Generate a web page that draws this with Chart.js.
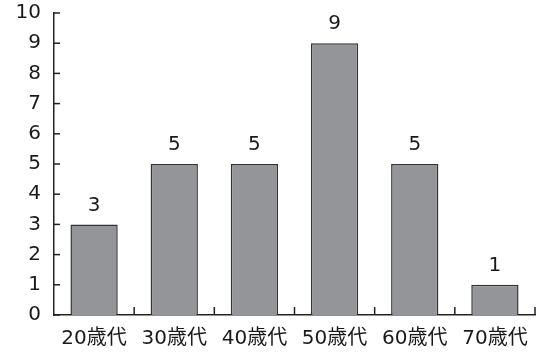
<!DOCTYPE html>
<html>
<head>
<meta charset="utf-8">
<script src="https://cdn.jsdelivr.net/npm/chart.js@4"></script>
<style>
  html, body { margin: 0; padding: 0; background: #fff; }
  #wrap { width: 544px; height: 352px; }
</style>
</head>
<body>
<div id="wrap"><canvas id="grafico"></canvas></div>
<script>
const categorias = ['20歳代', '30歳代', '40歳代', '50歳代', '60歳代', '70歳代'];
const valores = [3, 5, 5, 9, 5, 1];
const yMin = 0;
const yMax = 10;

const fonte = '"DejaVu Sans", "Noto Sans CJK JP", sans-serif';

// marcas dos eixos desenhadas para dentro + rótulos acima das barras
const extras = {
    id: 'extras',
    afterDatasetsDraw(chart) {
        const ctx = chart.ctx;
        const x = chart.scales.x;
        const y = chart.scales.y;
        const area = chart.chartArea;
        ctx.save();
        ctx.strokeStyle = '#222';
        ctx.lineWidth = 1.5;
        // marcas do eixo y
        y.ticks.forEach((t, i) => {
            const py = y.getPixelForTick(i);
            ctx.beginPath();
            ctx.moveTo(area.left, py);
            ctx.lineTo(area.left + 6, py);
            ctx.stroke();
        });
        // marcas do eixo x (entre categorias)
        for (let i = 1; i <= categorias.length; i++) {
            const px = i < categorias.length
                ? (x.getPixelForValue(i - 1) + x.getPixelForValue(i)) / 2
                : area.right;
            ctx.beginPath();
            ctx.moveTo(px, area.bottom);
            ctx.lineTo(px, area.bottom - 8);
            ctx.stroke();
        }
        // valores
        ctx.fillStyle = '#1a1a1a';
        ctx.font = '20px ' + fonte;
        ctx.textAlign = 'center';
        ctx.textBaseline = 'middle';
        const meta = chart.getDatasetMeta(0);
        meta.data.forEach((bar, i) => {
            ctx.fillText(String(valores[i]), bar.x, bar.y - 19);
        });
        ctx.restore();
    }
};

const ctx = document.getElementById('grafico').getContext('2d');
const chart = new Chart(ctx, {
    type: 'bar',
    data: {
        labels: categorias,
        datasets: [{
            data: valores,
            backgroundColor: '#949599',
            borderColor: '#333',
            borderWidth: 1.5,
            barPercentage: 0.59,
            categoryPercentage: 1
        }]
    },
    options: {
        responsive: true,
        maintainAspectRatio: false,
        animation: false,
        layout: { padding: { left: 0, top: 13, right: 9, bottom: 0 } },
        plugins: {
            legend: { display: false },
            tooltip: { enabled: false }
        },
        scales: {
            x: {
                grid: { display: false, drawTicks: false },
                border: { display: true, color: '#222', width: 1.5 },
                ticks: {
                    color: '#1a1a1a',
                    padding: 12,
                    maxRotation: 0,
                    font: { family: fonte, size: 20 }
                },
                afterFit(s) {
                    s.height = 37;
                    s.paddingLeft = 0;
                    s.paddingRight = 0;
                }
            },
            y: {
                min: yMin,
                max: yMax,
                grid: { display: false, drawTicks: false },
                border: { display: true, color: '#222', width: 1.5 },
                ticks: {
                    stepSize: 1,
                    color: '#1a1a1a',
                    padding: 13,
                    font: { family: fonte, size: 20 }
                },
                afterFit(s) {
                    s.width = 54;
                    s.paddingTop = 0;
                    s.paddingBottom = 0;
                }
            }
        }
    },
    plugins: [extras]
});
</script>
</body>
</html>
